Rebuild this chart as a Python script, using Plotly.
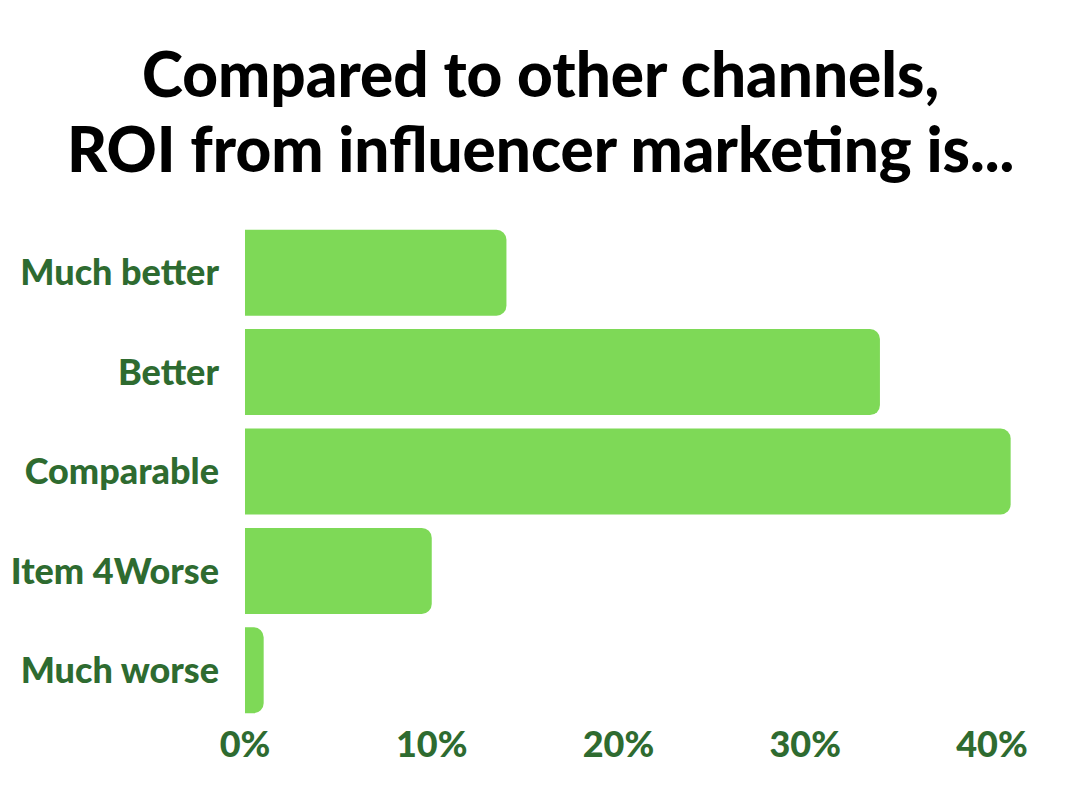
import plotly.graph_objects as go

categories = ["Much better", "Better", "Comparable", "Item 4Worse", "Much worse"]
values = [14, 34, 41, 10, 1]
tick_values = [0, 10, 20, 30, 40]
tick_labels = ["0%", "10%", "20%", "30%", "40%"]
title_lines = ["Compared to other channels,", "ROI from influencer marketing is..."]

BAR_COLOR = "#7ED957"
LABEL_COLOR = "#2E6B30"
W, H = 1080, 810
L, R, T, B = 245, 32, 223, 90

fig = go.Figure(
    go.Bar(
        x=values,
        y=categories,
        orientation="h",
        marker=dict(color=BAR_COLOR, line=dict(width=0)),
        hoverinfo="skip",
    )
)

fig.update_layout(
    template="none",
    width=W,
    height=H,
    margin=dict(l=L, r=R, t=T, b=B, autoexpand=False),
    plot_bgcolor="white",
    paper_bgcolor="white",
    bargap=0.135,
    barcornerradius=10,
    showlegend=False,
    xaxis=dict(
        range=[0, 43],
        tickvals=tick_values,
        ticktext=tick_labels,
        showgrid=False,
        zeroline=False,
        showline=False,
        ticks="",
        automargin=False,
        tickfont=dict(family="Lato", size=36, color=LABEL_COLOR, weight=900),
    ),
    yaxis=dict(
        autorange="reversed",
        showgrid=False,
        zeroline=False,
        showline=False,
        ticks="",
        automargin=False,
        ticklabelstandoff=25,
        tickfont=dict(family="Lato", size=36, color=LABEL_COLOR, weight=900),
    ),
)

plot_w = W - L - R
plot_h = H - T - B
xc = (540 - L) / plot_w
for i, line in enumerate(title_lines):
    yc = (H - B - (73 + 75 * i)) / plot_h
    fig.add_annotation(
        text=line,
        xref="paper",
        yref="paper",
        x=xc,
        y=yc,
        xanchor="center",
        yanchor="middle",
        showarrow=False,
        font=dict(family="Lato", size=62, color="black", weight=900),
    )

fig.write_html("out.html")
